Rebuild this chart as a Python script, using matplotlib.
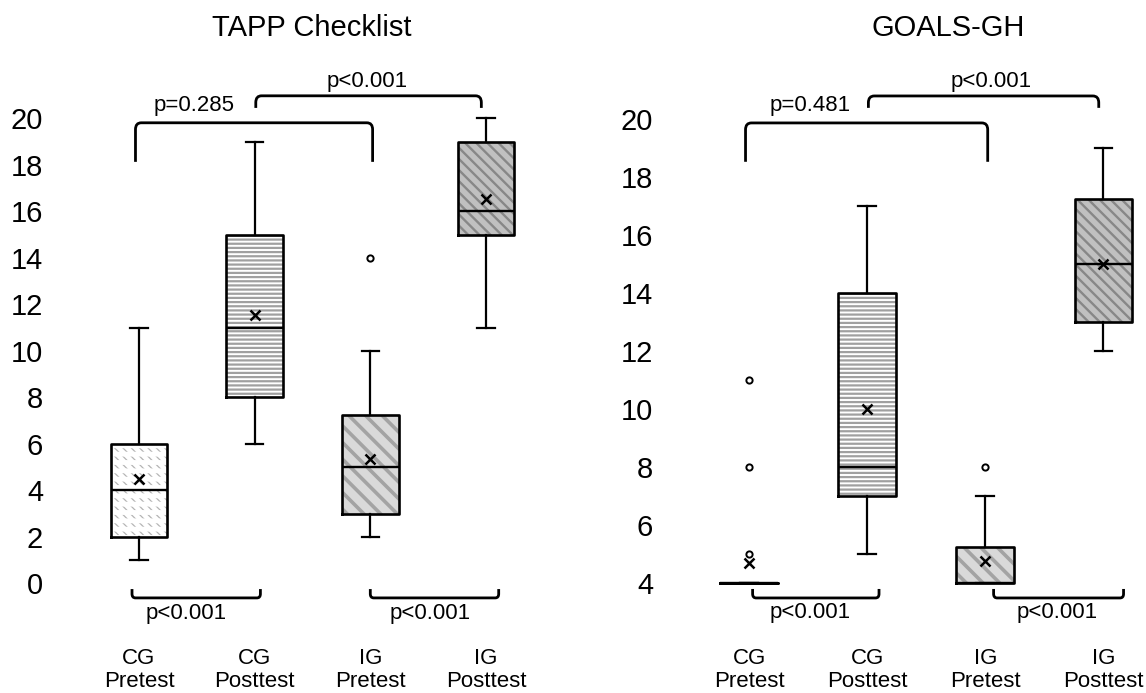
import matplotlib.pyplot as plt
from matplotlib.path import Path
from matplotlib.patches import PathPatch

plt.rcParams['font.family'] = ['Liberation Sans', 'DejaVu Sans']
plt.rcParams['hatch.linewidth'] = 1.2

groups = ['CG\nPretest', 'CG\nPosttest', 'IG\nPretest', 'IG\nPosttest']

# TAPP Checklist
tapp_min = [1, 6, 2, 11]
tapp_q1 = [2, 8, 3, 15]
tapp_med = [4, 11, 5, 16]
tapp_q3 = [6, 15, 7.25, 19]
tapp_max = [11, 19, 10, 20]
tapp_mean = [4.5, 11.55, 5.35, 16.55]
tapp_out = [[], [], [14], []]

# GOALS-GH
goals_min = [4, 5, 4, 12]
goals_q1 = [4, 7, 4, 13]
goals_med = [4, 8, 4, 15]
goals_q3 = [4, 14, 5.25, 17.25]
goals_max = [4, 17, 7, 19]
goals_mean = [4.7, 10, 4.75, 15]
goals_out = [[5, 8, 11], [], [8], []]

# p-values: (pair, label)
tapp_top = [((1, 3), 'p=0.285'), ((2, 4), 'p<0.001')]
tapp_bottom = [((1, 2), 'p<0.001'), ((3, 4), 'p<0.001')]
goals_top = [((1, 3), 'p=0.481'), ((2, 4), 'p<0.001')]
goals_bottom = [((1, 2), 'p<0.001'), ((3, 4), 'p<0.001')]

fills = ['white', 'white', '#d9d9d9', '#c0c0c0']
hatches = ['\\\\\\\\', '----', '\\\\', '\\\\\\']
hatch_cols = ['#b4b4b4', '#a0a0a0', '#a3a3a3', '#878787']
hatch_lws = [0.9, 1.6, 2.6, 1.7]

W, H = 1146, 693
fig = plt.figure(figsize=(W / 100, H / 100), dpi=100)


def bracket(ax, x0, x1, y_leg, y_bar, rx, ry):
    s = 1 if y_bar > y_leg else -1
    verts = [(x0, y_leg), (x0, y_bar - s * ry), (x0, y_bar), (x0 + rx, y_bar),
             (x1 - rx, y_bar), (x1, y_bar), (x1, y_bar - s * ry), (x1, y_leg)]
    codes = [Path.MOVETO, Path.LINETO, Path.CURVE3, Path.CURVE3,
             Path.LINETO, Path.CURVE3, Path.CURVE3, Path.LINETO]
    ax.add_patch(PathPatch(Path(verts, codes), fill=False, lw=2.0,
                           edgecolor='black', capstyle='butt'))


def hatch_lw(patch, lw):
    if hasattr(patch, 'set_hatch_linewidth'):
        patch.set_hatch_linewidth(lw)


def panel(rect, xlim, ylim, mins, q1s, meds, q3s, maxs, means, outs, yticks,
          top, bottom, top_y, bot_y):
    ax = fig.add_axes(rect)
    stats = []
    for i in range(4):
        stats.append(dict(whislo=mins[i], q1=q1s[i], med=meds[i], q3=q3s[i],
                          whishi=maxs[i], mean=means[i], fliers=outs[i]))
    pos = [1, 2, 3, 4]
    fill_kw = dict(widths=0.49, patch_artist=True, showcaps=False,
                   showfliers=False, showmeans=False,
                   boxprops=dict(linewidth=0), whiskerprops=dict(linewidth=0),
                   medianprops=dict(linewidth=0))
    # hatched fill layer
    bp = ax.bxp(stats, positions=pos, **fill_kw)
    for b, fc, h, hc, lw in zip(bp['boxes'], fills, hatches, hatch_cols, hatch_lws):
        b.set_facecolor(fc)
        b.set_edgecolor(hc)
        b.set_hatch(h)
        hatch_lw(b, lw)
    # white bands that break the first box's diagonals into dashes
    bp2 = ax.bxp(stats[:1], positions=pos[:1], **fill_kw)
    b = bp2['boxes'][0]
    b.set_facecolor('none')
    b.set_edgecolor('white')
    b.set_hatch('--')
    hatch_lw(b, 3.5)
    # outline layer
    ax.bxp(stats, positions=pos, widths=0.49, capwidths=0.15,
           showmeans=True, showfliers=True,
           boxprops=dict(color='black', linewidth=1.9),
           whiskerprops=dict(color='black', linewidth=1.6),
           capprops=dict(color='black', linewidth=1.6),
           medianprops=dict(color='black', linewidth=1.7),
           meanprops=dict(marker='x', markeredgecolor='black',
                          markersize=7, markeredgewidth=1.8),
           flierprops=dict(marker='o', markerfacecolor='white',
                           markeredgecolor='black', markersize=4.5,
                           markeredgewidth=1.4))
    ax.set_xlim(*xlim)
    ax.set_ylim(*ylim)
    for sp in ax.spines.values():
        sp.set_visible(False)
    ax.set_yticks(yticks)
    ax.set_xticks(pos)
    ax.set_xticklabels(groups, fontsize=16, linespacing=1.12)
    ax.tick_params(axis='y', length=0, pad=5, labelsize=21)
    ax.tick_params(axis='x', length=0, pad=20.5)

    rx = 0.05
    ry = (ylim[1] - ylim[0]) * 0.012
    # top brackets
    (a, b), lab = top[0]
    y_leg, y_bar, y_txt, x_txt = top_y[0]
    bracket(ax, a - 0.03, b + 0.02, y_leg, y_bar, rx, ry)
    ax.text(x_txt, y_txt, lab, fontsize=16, ha='center', va='center')
    (a, b), lab = top[1]
    y_leg, y_bar, y_txt, x_txt = top_y[1]
    bracket(ax, a + 0.01, b - 0.04, y_leg, y_bar, rx, ry)
    ax.text(x_txt, y_txt, lab, fontsize=16, ha='center', va='center')
    # bottom brackets
    for ((a, b), lab), (x0, x1, x_txt) in zip(bottom, bot_y[1]):
        y_leg, y_bar, y_txt = bot_y[0]
        bracket(ax, x0, x1, y_leg, y_bar, 0.03, ry * 0.6)
        ax.text(x_txt, y_txt, lab, fontsize=16, ha='center', va='center')
    return ax


# left panel: pixel geometry -> data
ax1 = panel([50 / W, 73 / H, 510 / W, 560 / H], (0.231, 4.64), (-1.57, 22.51),
            tapp_min, tapp_q1, tapp_med, tapp_q3, tapp_max, tapp_mean, tapp_out,
            list(range(0, 21, 2)), tapp_top, tapp_bottom,
            [(18.13, 19.81, 20.54, 1.48), (20.45, 20.97, 21.57, 2.97)],
            ((-0.24, -0.62, -1.27), [(0.94, 2.05, 1.41), (3.0, 4.11, 3.52)]))

ax2 = panel([660 / W, 73 / H, 486 / W, 560 / H], (0.246, 4.36), (2.72, 22.03),
            goals_min, goals_q1, goals_med, goals_q3, goals_max, goals_mean, goals_out,
            list(range(4, 21, 2)), goals_top, goals_bottom,
            [(18.52, 19.86, 20.45, 1.52), (20.38, 20.79, 21.28, 3.05)],
            ((3.79, 3.48, 2.97), [(1.03, 2.1, 1.52), (3.07, 4.17, 3.61)]))

fig.text(312 / W, 1 - 28 / H, 'TAPP Checklist', fontsize=21, ha='center', va='center')
fig.text(948 / W, 1 - 28 / H, 'GOALS-GH', fontsize=21, ha='center', va='center')

fig.savefig('out.png', dpi=100)
